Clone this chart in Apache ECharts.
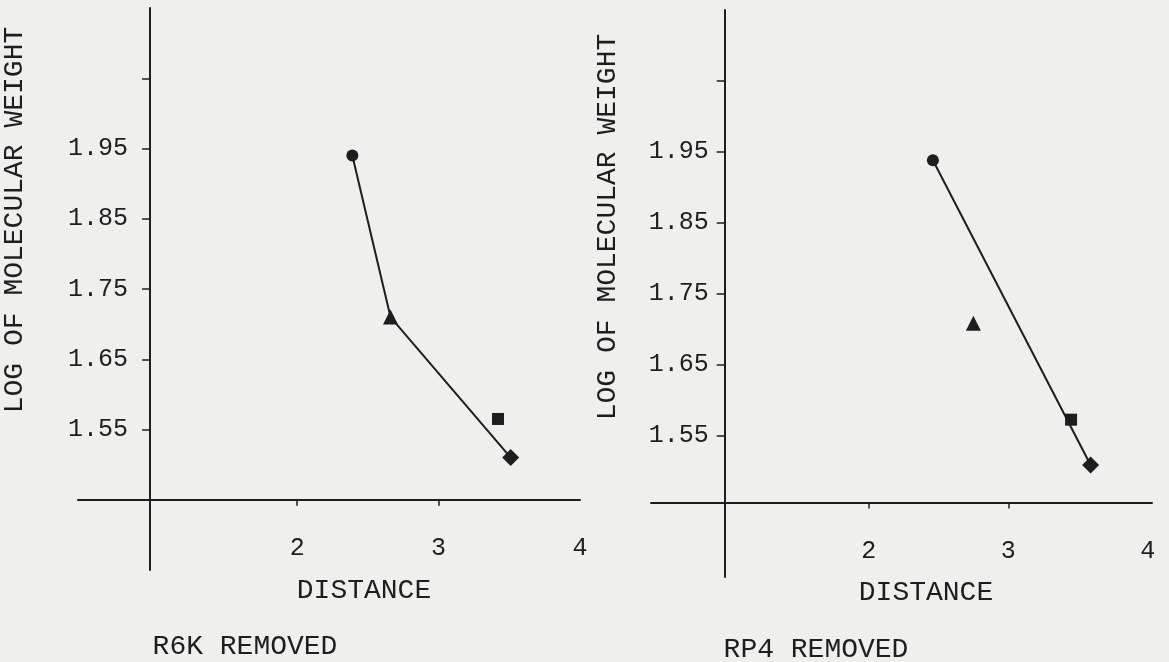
<!DOCTYPE html>
<html>
<head>
<meta charset="utf-8">
<script src="https://cdn.jsdelivr.net/npm/echarts@6/dist/echarts.min.js"></script>
<style>
    html, body { margin: 0; padding: 0; background: #efefed; }
    #main { width: 1169px; height: 662px; }
</style>
</head>
<body>
<div id="main"></div>
<script>
    // data (distance, log of molecular weight)
    var markerShapes = ['circle', 'triangle', 'rect', 'diamond'];
    var markerSizes = [12, 15, 12, 17];
    var r6kDistance = [2.39, 2.66, 3.42, 3.51];
    var r6kLogMw = [1.94, 1.71, 1.565, 1.51];
    var rp4Distance = [2.46, 2.75, 3.45, 3.59];
    var rp4LogMw = [1.938, 1.708, 1.572, 1.508];
    // which points each drawn line passes through
    var r6kLinePoints = [0, 1, 3];
    var rp4LinePoints = [0, 3];

    var xTickValues = [2, 3];
    var xLabelValues = [2, 3, 4];
    var yTickValues = [1.55, 1.65, 1.75, 1.85, 1.95, 2.05];
    var yLabelValues = [1.55, 1.65, 1.75, 1.85, 1.95];

    var ink = '#1e1e1e';
    var font = '"Liberation Mono", "DejaVu Sans Mono", monospace';

    // layout of each panel: where the axes cross and the pixel box
    var panels = [
        { left: 78, top: 8, width: 502, height: 562, xMin: 0.45, xMax: 4.0, xCross: 0.96, yCross: 1.45, labelMargin: 22, labelShift: 18 },
        { left: 651, top: 10, width: 501, height: 567, xMin: 0.44, xMax: 4.03, xCross: 0.968, yCross: 1.455, labelMargin: 16, labelShift: 23 }
    ];
    var yMin = 1.35, yMax = 2.15;

    var chart = echarts.init(document.getElementById('main'));

    var grids = [], xAxes = [], yAxes = [];
    panels.forEach(function (p, i) {
        grids.push({ left: p.left, top: p.top, width: p.width, height: p.height, containLabel: false, outerBoundsMode: 'none' });
        xAxes.push({
            type: 'value', gridIndex: i, min: p.xMin, max: p.xMax,
            offset: -(p.yCross - yMin) / (yMax - yMin) * p.height,
            splitLine: { show: false },
            axisLine: { onZero: false, lineStyle: { color: ink, width: 2 } },
            axisTick: { customValues: xTickValues, length: 6, lineStyle: { color: ink, width: 1.5 } },
            axisLabel: { customValues: xLabelValues, margin: 36, color: ink, fontFamily: font, fontSize: 25 }
        });
        yAxes.push({
            type: 'value', gridIndex: i, min: yMin, max: yMax,
            offset: -(p.xCross - p.xMin) / (p.xMax - p.xMin) * p.width,
            splitLine: { show: false },
            axisLine: { onZero: false, lineStyle: { color: ink, width: 2 } },
            axisTick: { customValues: yTickValues, length: 8, lineStyle: { color: ink, width: 1.5 } },
            axisLabel: {
                customValues: yLabelValues, margin: p.labelMargin, color: ink, fontFamily: font, fontSize: 25,
                padding: [0, 0, p.labelShift, 0],
                formatter: function (v) { return v.toFixed(2); }
            }
        });
    });

    function pointData(xs, ys) {
        return xs.map(function (x, k) {
            return { value: [x, ys[k]], symbol: markerShapes[k], symbolSize: markerSizes[k] };
        });
    }
    function lineData(xs, ys, idx) {
        return idx.map(function (k) { return [xs[k], ys[k]]; });
    }

    var series = [
        { type: 'line', xAxisIndex: 0, yAxisIndex: 0, data: lineData(r6kDistance, r6kLogMw, r6kLinePoints),
          showSymbol: false, lineStyle: { color: ink, width: 2 }, z: 2 },
        { type: 'scatter', xAxisIndex: 0, yAxisIndex: 0, data: pointData(r6kDistance, r6kLogMw),
          itemStyle: { color: ink, opacity: 1 }, z: 3 },
        { type: 'line', xAxisIndex: 1, yAxisIndex: 1, data: lineData(rp4Distance, rp4LogMw, rp4LinePoints),
          showSymbol: false, lineStyle: { color: ink, width: 2 }, z: 2 },
        { type: 'scatter', xAxisIndex: 1, yAxisIndex: 1, data: pointData(rp4Distance, rp4LogMw),
          itemStyle: { color: ink, opacity: 1 }, z: 3 }
    ];

    var textStyle = { fill: ink, font: '28px ' + font, textAlign: 'center', textVerticalAlign: 'middle' };
    function label(text, x, y, rot) {
        return { type: 'text', x: x, y: y, rotation: rot || 0, style: Object.assign({ text: text }, textStyle) };
    }

    var option = {
        backgroundColor: '#efefed',
        animation: false,
        grid: grids,
        xAxis: xAxes,
        yAxis: yAxes,
        series: series,
        graphic: [
            label('LOG OF MOLECULAR WEIGHT', 15, 220, Math.PI / 2),
            label('LOG OF MOLECULAR WEIGHT', 608, 227, Math.PI / 2),
            label('DISTANCE', 364, 591),
            label('DISTANCE', 926, 593),
            label('R6K REMOVED', 245, 647),
            label('RP4 REMOVED', 816, 650)
        ]
    };
    chart.setOption(option);
</script>
</body>
</html>
